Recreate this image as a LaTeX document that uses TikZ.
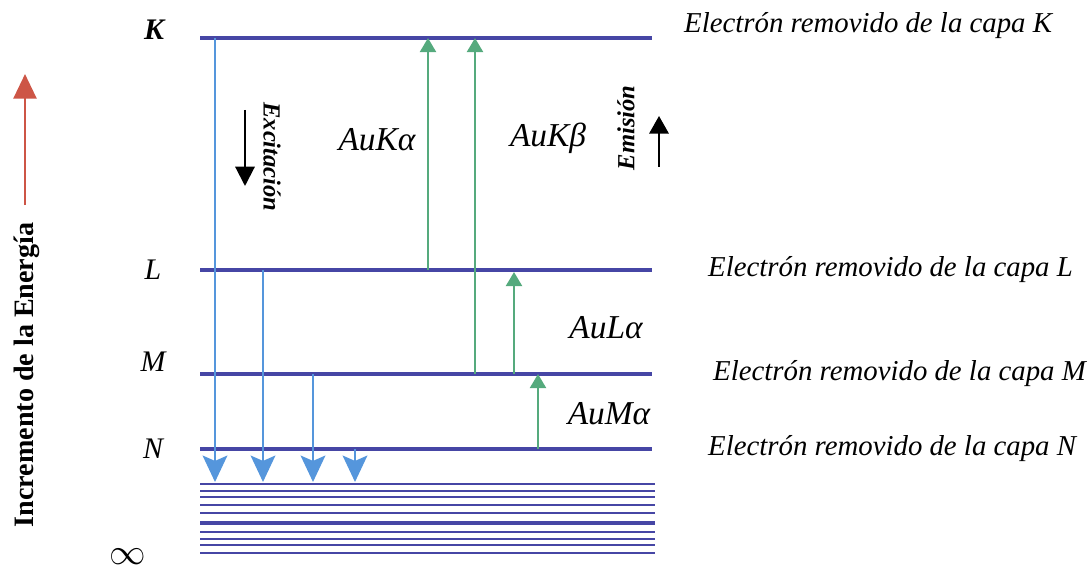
\documentclass[tikz,border=0pt]{standalone}
\usepackage{fontspec}
\setmainfont{Liberation Serif}
\usetikzlibrary{arrows.meta}
\definecolor{LevelBlue}{RGB}{70,70,165}
\definecolor{DropBlue}{RGB}{85,150,220}
\definecolor{EmitGreen}{RGB}{85,170,125}
\definecolor{AxisRed}{RGB}{205,85,70}
\tikzset{
  level/.style={draw=LevelBlue, line width=2.2pt},
  band/.style={draw=LevelBlue, line width=1.7pt},
  drop/.style={draw=DropBlue, line width=1.6pt, -{Stealth[length=15pt,width=14pt,inset=3pt]}},
  emit/.style={draw=EmitGreen, line width=1.6pt, -{Triangle[length=8pt,width=9pt]}},
  lab/.style={font=\fontsize{16.4}{18}\selectfont\itshape},
  tag/.style={font=\fontsize{17}{19}\selectfont\itshape},
  line/.style={font=\fontsize{19}{21}\selectfont\itshape},
  side/.style={font=\fontsize{14}{16}\selectfont\bfseries\itshape},
}
\begin{document}
\begin{tikzpicture}[x=0.02cm, y=-0.02cm]
    \useasboundingbox (0,0) rectangle (1089,571);

    % Energy levels
    \foreach \name/\y in {K/38, L/270, M/374, N/449} {
      \coordinate (\name a) at (200,\y);
      \coordinate (\name b) at (652,\y);
      \draw[level] (\name a) -- (\name b);
    }
    \node[tag, font=\fontsize{17}{19}\selectfont\bfseries\itshape] (Ktag) at (154,30) {K};
    \node[tag] (Ltag) at (153,270) {L};
    \node[tag] (Mtag) at (153,362) {M};
    \node[tag] (Ntag) at (153,449) {N};
    \node[font=\fontsize{21}{23}\selectfont] (inftag) at (128,557) {$\infty$};

    % Continuum
    \foreach \y in {484,491,497,505,513,532,539,545,553} {
      \draw[band] (200,\y) -- (655,\y);
    }
    \draw[band, line width=2.8pt] (200,523) -- (655,523);

    % Excitation
    \foreach \x/\y [count=\i] in {215/38, 263/270, 313/374, 355/449} {
      \coordinate (src\i) at (\x,\y);
      \coordinate (dst\i) at (\x,482);
      \draw[drop] (src\i) -- (dst\i);
    }

    % Emission
    \coordinate (ka0) at (428,270); \coordinate (ka1) at (428,38);
    \coordinate (kb0) at (475,374); \coordinate (kb1) at (475,38);
    \coordinate (la0) at (514,374); \coordinate (la1) at (514,272);
    \coordinate (ma0) at (538,449); \coordinate (ma1) at (538,374);
    \draw[emit] (ka0) -- (ka1);
    \draw[emit] (kb0) -- (kb1);
    \draw[emit] (la0) -- (la1);
    \draw[emit] (ma0) -- (ma1);

    \node[line] (kalpha) at (377,140) {AuKα};
    \node[line] (kbeta) at (548,138) {AuKβ};
    \node[line] (lalpha) at (606,328) {AuLα};
    \node[line] (malpha) at (609,414) {AuMα};

    % Side notes
    \node[side, rotate=-90] (exc) at (272,157) {Excitación};
    \coordinate (exc0) at (245,110); \coordinate (exc1) at (245,186);
    \draw[line width=1.2pt, -{Triangle[length=11pt,width=11pt]}] (exc0) -- (exc1);
    \node[side, rotate=90] (emi) at (626,128) {Emisión};
    \coordinate (emi0) at (659,167); \coordinate (emi1) at (659,116);
    \draw[line width=1.2pt, -{Triangle[length=10pt,width=11pt]}] (emi0) -- (emi1);

    \node[lab, anchor=west] (Knote) at (678,26) {Electrón removido de la capa K};
    \node[lab, anchor=west] (Lnote) at (702,270) {Electrón removido de la capa L};
    \node[lab, anchor=west] (Mnote) at (707,374) {Electrón removido de la capa M};
    \node[lab, anchor=west] (Nnote) at (702,449) {Electrón removido de la capa N};

    % Energy axis
    \node[rotate=90, font=\fontsize{16}{18}\selectfont\bfseries] (axis) at (27,375) {Incremento de la Energía};
    \coordinate (ax0) at (25,205); \coordinate (ax1) at (25,74);
    \draw[AxisRed, line width=1.6pt, -{Triangle[length=14pt,width=13pt]}] (ax0) -- (ax1);
\end{tikzpicture}
\end{document}
